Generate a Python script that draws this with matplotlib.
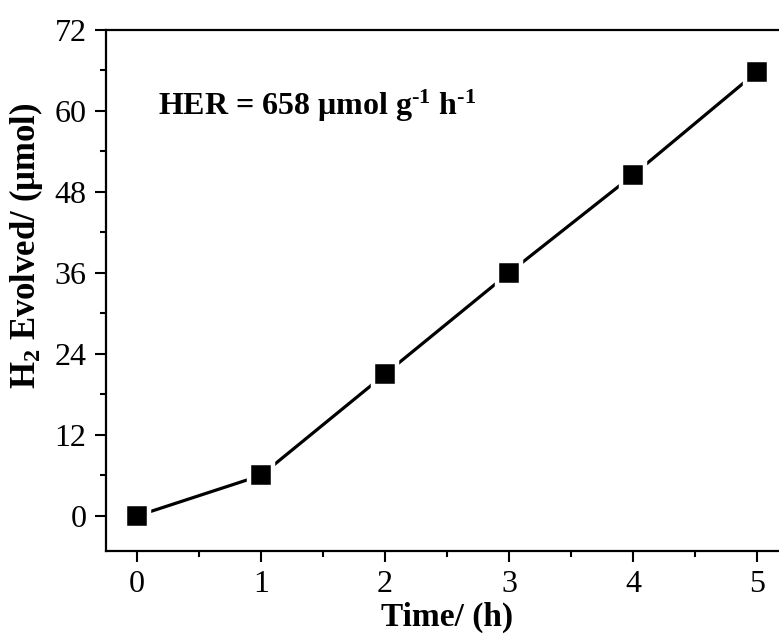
import numpy as np
import matplotlib
matplotlib.use("Agg")
import matplotlib.pyplot as plt
from matplotlib.ticker import MultipleLocator

# Data
time_h = [0, 1, 2, 3, 4, 5]
h2_umol = [0, 6, 21, 36, 50.5, 65.8]

plt.rcParams['font.family'] = ['Liberation Serif', 'DejaVu Serif']
plt.rcParams['mathtext.fontset'] = 'custom'
plt.rcParams['mathtext.rm'] = 'Liberation Serif:bold'
plt.rcParams['mathtext.bf'] = 'Liberation Serif:bold'
plt.rcParams['mathtext.it'] = 'Liberation Serif:bold'

fig = plt.figure(figsize=(7.79, 6.42), dpi=100)
ax = fig.add_axes([0.136, 0.1417, 0.8755, 0.8116])

ax.plot(time_h, h2_umol, color='black', lw=2.3, zorder=2)
ax.plot(time_h, h2_umol, ls='none', marker='s', ms=17, mfc='black',
        mec='white', mew=3.2, zorder=3)

ax.set_xlim(-0.25, 5.25)
ax.set_ylim(-5.2, 72)
ax.xaxis.set_major_locator(MultipleLocator(1))
ax.xaxis.set_minor_locator(MultipleLocator(0.5))
ax.yaxis.set_major_locator(MultipleLocator(12))
ax.yaxis.set_minor_locator(MultipleLocator(6))

for s in ax.spines.values():
    s.set_linewidth(1.6)
ax.tick_params(which='major', direction='out', length=8, width=1.5, labelsize=23, pad=6)
ax.tick_params(which='minor', direction='out', length=4.5, width=1.5)

ax.set_xlabel('Time/ (h)', fontsize=24, fontweight='bold', labelpad=2)
ax.set_ylabel('H$_2$ Evolved/ (μmol)', fontsize=25, fontweight='bold')
ax.yaxis.set_label_coords(-0.09, 0.585)

ax.text(0.17, 59.4, r'HER = 658 μmol g$^{\text{-1}}$ h$^{\text{-1}}$', fontsize=23,
        fontweight='bold', ha='left', va='baseline')

fig.savefig('out.png', dpi=100)
